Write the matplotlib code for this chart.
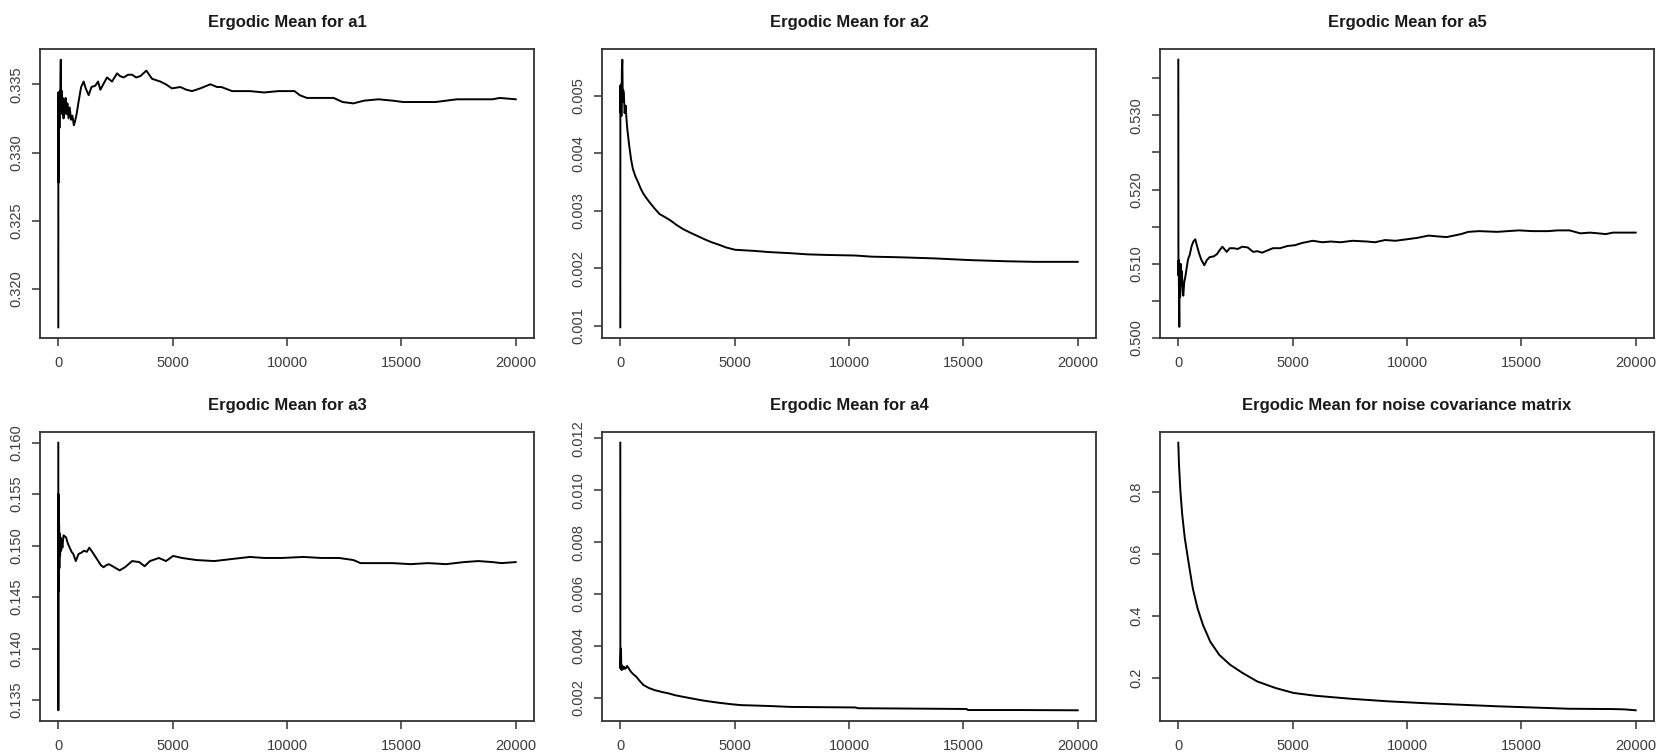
import matplotlib
matplotlib.use('Agg')
import matplotlib.pyplot as plt

plt.rcParams['font.family'] = ['Liberation Sans', 'DejaVu Sans']

# iteration / ergodic mean pairs
iters_a1 = [1, 4, 8, 14, 22, 30, 40, 52, 65, 80, 95, 110, 125, 140, 160, 180, 200, 230, 260, 290,
            320, 360, 400, 450, 500, 560, 620, 680, 720, 800, 895, 1000, 1110, 1200, 1330, 1450,
            1620, 1740, 1840, 2000, 2130, 2350, 2570, 2700, 2860, 3050, 3230, 3400, 3590, 3850,
            4100, 4460, 4700, 4970, 5340, 5600, 5850, 6210, 6650, 6940, 7130, 7600, 8380, 9000,
            9625, 10330, 10560, 10870, 11500, 12040, 12430, 12900, 13370, 14000, 14620, 15090,
            15630, 16490, 17430, 18050, 18990, 19300, 20000]
a1 = [0.3172, 0.3344, 0.3290, 0.3278, 0.3338, 0.3310, 0.3342, 0.3318, 0.3345, 0.3330, 0.3355,
      0.3368, 0.3340, 0.3332, 0.3345, 0.3328, 0.3340, 0.3325, 0.3338, 0.3330, 0.3340, 0.3328,
      0.3336, 0.3325, 0.3333, 0.3324, 0.3327, 0.3320, 0.3322, 0.3328, 0.3338, 0.3348, 0.3352,
      0.3347, 0.3342, 0.3348, 0.3349, 0.3352, 0.3346, 0.3351, 0.3355, 0.3352, 0.3358, 0.3356,
      0.3355, 0.3357, 0.3357, 0.3355, 0.3356, 0.3360, 0.3354, 0.3352, 0.3350, 0.3347, 0.3348,
      0.3346, 0.3345, 0.3347, 0.3350, 0.3348, 0.3348, 0.3345, 0.3345, 0.3344, 0.3345, 0.3345,
      0.3342, 0.3340, 0.3340, 0.3340, 0.3337, 0.3336, 0.3338, 0.3339, 0.3338, 0.3337, 0.3337,
      0.3337, 0.3339, 0.3339, 0.3339, 0.3340, 0.3339]

iters_a2 = [1, 5, 15, 30, 50, 70, 90, 110, 130, 157, 190, 235, 280, 314, 392, 470, 550, 660, 785,
            900, 1020, 1180, 1334, 1520, 1726, 1950, 2197, 2470, 2746, 3050, 3373, 3700, 4000,
            4300, 4629, 5020, 5884, 6500, 7453, 8200, 9022, 10277, 11000, 12160, 13730, 15300,
            16870, 18120, 20000]
a2 = [0.00097, 0.00518, 0.00470, 0.00520, 0.00465, 0.00545, 0.00563, 0.00490, 0.00510, 0.00503,
      0.00470, 0.00483, 0.00455, 0.00440, 0.00413, 0.00390, 0.00373, 0.00360, 0.00349, 0.00338,
      0.00329, 0.00320, 0.00312, 0.00303, 0.00294, 0.00289, 0.00283, 0.00275, 0.00268, 0.00262,
      0.00256, 0.00250, 0.00245, 0.00241, 0.00236, 0.00232, 0.00230, 0.00228, 0.00226, 0.00224,
      0.00223, 0.00222, 0.00220, 0.00219, 0.00217, 0.00214, 0.00212, 0.00211, 0.00211]

iters_a5 = [1, 6, 12, 20, 30, 45, 60, 80, 100, 130, 160, 190, 220, 260, 316, 370, 427, 500, 585,
            660, 743, 820, 900, 1000, 1138, 1250, 1375, 1550, 1692, 1800, 1929, 2118, 2250, 2403,
            2600, 2798, 3035, 3273, 3450, 3668, 3900, 4142, 4450, 4775, 5100, 5407, 5880, 6300,
            6672, 7100, 7620, 8253, 8600, 9043, 9500, 9992, 10466, 10940, 11300, 11730, 12050,
            12363, 12680, 13154, 13944, 14400, 14892, 15500, 16157, 16600, 17106, 17580, 18000,
            18371, 18687, 19003, 20000]
a5 = [0.5375, 0.5122, 0.5084, 0.5105, 0.5060, 0.5015, 0.5090, 0.5055, 0.5100, 0.5070, 0.5090,
      0.5062, 0.5057, 0.5075, 0.5084, 0.5095, 0.5106, 0.5112, 0.5124, 0.5130, 0.5133, 0.5124,
      0.5115, 0.5106, 0.5098, 0.5105, 0.5109, 0.5110, 0.5113, 0.5118, 0.5123, 0.5116, 0.5121,
      0.5121, 0.5120, 0.5123, 0.5122, 0.5116, 0.5117, 0.5115, 0.5118, 0.5121, 0.5121, 0.5124,
      0.5125, 0.5128, 0.5131, 0.5129, 0.5130, 0.5129, 0.5131, 0.5130, 0.5129, 0.5132, 0.5131,
      0.5133, 0.5135, 0.5138, 0.5137, 0.5136, 0.5138, 0.5140, 0.5143, 0.5144, 0.5143, 0.5144,
      0.5145, 0.5144, 0.5144, 0.5145, 0.5145, 0.5141, 0.5142, 0.5141, 0.5140, 0.5142, 0.5142]

iters_a3 = [1, 3, 7, 12, 18, 26, 36, 48, 62, 80, 100, 125, 150, 180, 230, 340, 420, 500, 580, 655,
            765, 890, 1000, 1123, 1250, 1357, 1513, 1630, 1747, 1860, 1981, 2100, 2215, 2449, 2683,
            2917, 3229, 3541, 3775, 4010, 4400, 4711, 5023, 5413, 6037, 6817, 7597, 8377, 9001,
            9781, 10718, 11498, 12278, 12902, 13214, 13838, 14618, 15398, 16178, 16958, 17738,
            18362, 18986, 19376, 20000]
a3 = [0.1600, 0.1340, 0.1550, 0.1456, 0.1535, 0.1470, 0.1520, 0.1478, 0.1512, 0.1490, 0.1508,
      0.1495, 0.1505, 0.1498, 0.1510, 0.1508, 0.1502, 0.1498, 0.1494, 0.1492, 0.1485, 0.1492,
      0.1493, 0.1495, 0.1494, 0.1498, 0.1493, 0.1489, 0.1485, 0.1481, 0.1479, 0.1481, 0.1482,
      0.1479, 0.1476, 0.1479, 0.1485, 0.1484, 0.1480, 0.1485, 0.1488, 0.1485, 0.1490, 0.1488,
      0.1486, 0.1485, 0.1487, 0.1489, 0.1488, 0.1488, 0.1489, 0.1488, 0.1488, 0.1486, 0.1483,
      0.1483, 0.1483, 0.1482, 0.1483, 0.1482, 0.1484, 0.1485, 0.1484, 0.1483, 0.1484]

iters_a4 = [1, 4, 10, 20, 30, 45, 60, 80, 110, 157, 200, 235, 300, 380, 470, 580, 706, 850, 1020,
            1250, 1490, 1800, 2118, 2400, 2746, 3100, 3530, 3900, 4315, 4800, 5256, 6000, 6668,
            7453, 8800, 10277, 10400, 12160, 15140, 15200, 17500, 20000]
a4 = [0.01183, 0.00330, 0.00313, 0.00360, 0.00390, 0.00315, 0.00307, 0.00325, 0.00310, 0.00320,
      0.00312, 0.00313, 0.00323, 0.00312, 0.00300, 0.00290, 0.00281, 0.00265, 0.00249, 0.00238,
      0.00230, 0.00223, 0.00217, 0.00210, 0.00204, 0.00198, 0.00191, 0.00186, 0.00181, 0.00176,
      0.00172, 0.00170, 0.00168, 0.00165, 0.00164, 0.00163, 0.00160, 0.00159, 0.00157, 0.00153,
      0.00153, 0.00152]

iters_noise = [1, 32, 95, 174, 285, 444, 634, 840, 1078, 1396, 1792, 2268, 2823, 3457, 4250, 5043,
               5995, 7581, 9167, 10753, 12339, 13925, 15511, 17097, 19000, 19500, 20000]
noise = [0.960, 0.888, 0.802, 0.727, 0.652, 0.576, 0.490, 0.426, 0.372, 0.318, 0.275, 0.243,
         0.216, 0.189, 0.168, 0.152, 0.143, 0.133, 0.125, 0.119, 0.114, 0.109, 0.105, 0.101,
         0.100, 0.099, 0.096]

titles = ['Ergodic Mean for a1', 'Ergodic Mean for a2', 'Ergodic Mean for a5',
          'Ergodic Mean for a3', 'Ergodic Mean for a4', 'Ergodic Mean for noise covariance matrix']

x_ticks = [0, 5000, 10000, 15000, 20000]
y_ticks = [
    [0.320, 0.325, 0.330, 0.335],
    [0.001, 0.002, 0.003, 0.004, 0.005],
    [0.500, 0.505, 0.510, 0.515, 0.520, 0.525, 0.530, 0.535],
    [0.135, 0.140, 0.145, 0.150, 0.155, 0.160],
    [0.002, 0.004, 0.006, 0.008, 0.010, 0.012],
    [0.2, 0.4, 0.6, 0.8],
]
y_labels = [
    ['0.320', '0.325', '0.330', '0.335'],
    ['0.001', '0.002', '0.003', '0.004', '0.005'],
    ['0.500', '', '0.510', '', '0.520', '', '0.530', ''],
    ['0.135', '0.140', '0.145', '0.150', '0.155', '0.160'],
    ['0.002', '0.004', '0.006', '0.008', '0.010', '0.012'],
    ['0.2', '0.4', '0.6', '0.8'],
]

series = [(iters_a1, a1), (iters_a2, a2), (iters_a5, a5),
          (iters_a3, a3), (iters_a4, a4), (iters_noise, noise)]

W, H = 1667, 755
col_left = [40, 602, 1160]
box_w = 494
row_top = [49, 432]
box_h = 289

fig = plt.figure(figsize=(W / 100, H / 100), dpi=100)
label_col = '#3c3c3c'

for k, (xs, ys) in enumerate(series):
    r, c = divmod(k, 3)
    ax = fig.add_axes([col_left[c] / W, 1 - (row_top[r] + box_h) / H, box_w / W, box_h / H])
    ax.plot(xs, ys, color='black', lw=1.4)
    ax.margins(x=0.04, y=0.04)  # R's default 4% axis padding
    ax.set_xticks(x_ticks)
    ax.set_xticklabels([str(v) for v in x_ticks])
    ax.set_yticks(y_ticks[k])
    ax.set_yticklabels(y_labels[k], rotation=90, va='center')
    ax.tick_params(length=6, width=1.1, color='#333333', labelsize=10.5, labelcolor=label_col)
    ax.tick_params(axis='x', pad=7)
    ax.tick_params(axis='y', pad=6)
    for sp in ax.spines.values():
        sp.set_linewidth(1.3)
        sp.set_color('#333333')
    ax.set_title(titles[k], fontsize=12, fontweight='bold', color='#1a1a1a', pad=16)

fig.savefig('out.png', dpi=100)
